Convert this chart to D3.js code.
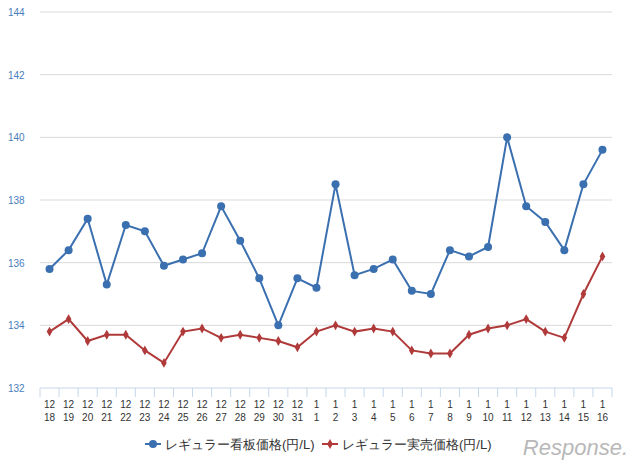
<!DOCTYPE html><html><head><meta charset="utf-8"><script src="https://cdn.jsdelivr.net/npm/d3@7"></script>
<style>body{margin:0;background:#fff}text{font-family:"Liberation Sans",Arial,sans-serif}</style></head><body>
<svg id="c" width="640" height="467"></svg>
<script>
const months=["12","12","12","12","12","12","12","12","12","12","12","12","12","12","1","1","1","1","1","1","1","1","1","1","1","1","1","1","1","1"];
const days=["18","19","20","21","22","23","24","25","26","27","28","29","30","31","1","2","3","4","5","6","7","8","9","10","11","12","13","14","15","16"];
const listPrice=[135.8,136.4,137.4,135.3,137.2,137.0,135.9,136.1,136.3,137.8,136.7,135.5,134.0,135.5,135.2,138.5,135.6,135.8,136.1,135.1,135.0,136.4,136.2,136.5,140.0,137.8,137.3,136.4,138.5,139.6];
const actualPrice=[133.8,134.2,133.5,133.7,133.7,133.2,132.8,133.8,133.9,133.6,133.7,133.6,133.5,133.3,133.8,134.0,133.8,133.9,133.8,133.2,133.1,133.1,133.7,133.9,134.0,134.2,133.8,133.6,135.0,136.2];
const yTicks=[132,134,136,138,140,142,144];
const names=["レギュラー看板価格(円/L)","レギュラー実売価格(円/L)"];
const svg=d3.select("#c");
const L=40,R=612,T=12,B=388;
const x=d3.scaleBand().domain(d3.range(30)).range([L,R]);
const y=d3.scaleLinear().domain([132,144]).range([B,T]);
svg.append("g").selectAll("line").data(yTicks.slice(1)).join("line").attr("x1",L).attr("x2",R).attr("y1",d=>y(d)).attr("y2",d=>y(d)).attr("stroke","#d9d9d9");
svg.append("g").selectAll("text").data(yTicks).join("text").attr("x",8).attr("y",d=>y(d)+4).attr("font-size",10).attr("fill","#4a7ebb").text(d=>d);
svg.append("line").attr("x1",L).attr("x2",R).attr("y1",B).attr("y2",B).attr("stroke","#c6d7ea");
svg.append("g").selectAll("line").data(d3.range(31)).join("line").attr("x1",d=>L+d*x.bandwidth()).attr("x2",d=>L+d*x.bandwidth()).attr("y1",B).attr("y2",B+9).attr("stroke","#c6d7ea");
const xl=svg.append("g").selectAll("g").data(d3.range(30)).join("g").attr("transform",d=>`translate(${x(d)+x.bandwidth()/2},0)`);
xl.append("text").attr("y",408).attr("text-anchor","middle").attr("font-size",10).attr("fill","#333").text(d=>months[d]);
xl.append("text").attr("y",421).attr("text-anchor","middle").attr("font-size",10).attr("fill","#333").text(d=>days[d]);
const cx=i=>x(i)+x.bandwidth()/2;
const line=d3.line().x((d,i)=>cx(i)).y(d=>y(d));
svg.append("path").attr("d",line(listPrice)).attr("fill","none").attr("stroke","#3a6fb0").attr("stroke-width",2);
svg.append("g").selectAll("circle").data(listPrice).join("circle").attr("cx",(d,i)=>cx(i)).attr("cy",d=>y(d)).attr("r",4).attr("fill","#3a6fb0");
svg.append("path").attr("d",line(actualPrice)).attr("fill","none").attr("stroke","#b03a3a").attr("stroke-width",2);
const dia=d3.symbol().type(d3.symbolDiamond).size(28);
svg.append("g").selectAll("path").data(actualPrice).join("path").attr("d",dia).attr("transform",(d,i)=>`translate(${cx(i)},${y(d)})`).attr("fill","#b03a3a");
const lg=[{x:145,c:"#3a6fb0",s:"circle"},{x:322,c:"#b03a3a",s:"dia"}];
lg.forEach((l,i)=>{
 svg.append("line").attr("x1",l.x).attr("x2",l.x+16).attr("y1",444).attr("y2",444).attr("stroke",l.c).attr("stroke-width",2);
 if(l.s=="circle")svg.append("circle").attr("cx",l.x+8).attr("cy",444).attr("r",4).attr("fill",l.c);
 else svg.append("path").attr("d",dia).attr("transform",`translate(${l.x+8},444)`).attr("fill",l.c);
 svg.append("text").attr("x",l.x+20).attr("y",449).attr("font-size",13).attr("fill","#333").attr("font-family","Noto Sans CJK JP").text(names[i]);
});
svg.append("text").attr("x",628).attr("y",455).attr("text-anchor","end").attr("font-size",22).attr("font-style","italic").attr("fill","#b8b8b8").attr("font-family","Liberation Sans").text("Response.");
</script></body></html>
